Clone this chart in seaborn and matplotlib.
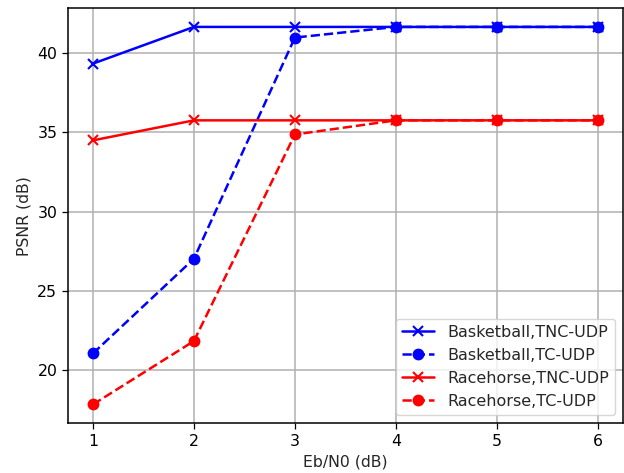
import matplotlib
matplotlib.use("Agg")
import matplotlib.pyplot as plt
import seaborn as sns
import pandas as pd

ebn0 = [1, 2, 3, 4, 5, 6]
basketball_tnc = [39.31, 41.62, 41.62, 41.62, 41.62, 41.62]
basketball_tc = [21.07, 27.03, 40.95, 41.62, 41.62, 41.62]
racehorse_tnc = [34.48, 35.74, 35.74, 35.74, 35.74, 35.74]
racehorse_tc = [17.86, 21.85, 34.85, 35.74, 35.74, 35.74]
labels = ["Basketball,TNC-UDP", "Basketball,TC-UDP", "Racehorse,TNC-UDP", "Racehorse,TC-UDP"]

sns.set_style("ticks")
plt.rcParams['font.family'] = ['DejaVu Sans']
plt.rcParams['font.size'] = 11.3

fig = plt.figure(figsize=(6.24, 4.73), dpi=100)
ax = fig.add_axes([0.1085, 0.105, 0.89, 0.878])

series = [
    (basketball_tnc, labels[0], "blue", "-", "x"),
    (basketball_tc, labels[1], "blue", "--", "o"),
    (racehorse_tnc, labels[2], "red", "-", "x"),
    (racehorse_tc, labels[3], "red", "--", "o"),
]
for vals, lab, col, ls, mk in series:
    df = pd.DataFrame({"x": ebn0, "y": vals})
    sns.lineplot(data=df, x="x", y="y", ax=ax, color=col, linestyle=ls,
                 marker=mk, markersize=7, markeredgewidth=1.5, markeredgecolor=col,
                 linewidth=1.8, label=lab)

ax.grid(True, color="#b0b0b0", linewidth=1.1)
ax.set_xlabel("Eb/N0 (dB)", fontsize=11.3)
ax.set_ylabel("PSNR (dB)", fontsize=11.3)
ax.set_xticks(ebn0)
ax.margins(x=0.05, y=0.05)
for s in ax.spines.values():
    s.set_color("black")
    s.set_linewidth(1.1)
ax.tick_params(colors="black", direction="out", length=4, width=0.9, labelsize=11.3)
ax.legend(loc="lower right", fontsize=11.5, frameon=True)
fig.savefig("out.png", dpi=100)
